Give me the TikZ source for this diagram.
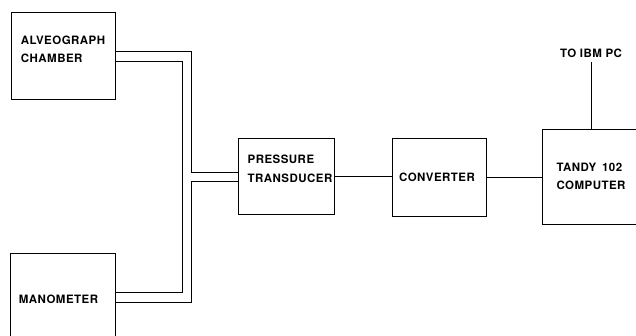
\documentclass[tikz,border=0pt]{standalone}
\usepackage{fontspec}
\newfontfamily\lblfont[LetterSpace=4]{TeX Gyre Heros}
\usepackage{tikz}
\usetikzlibrary{positioning}

\begin{document}
\begin{tikzpicture}[
  x=1pt, y=-1pt,
  blk/.style={rectangle, draw=black, line width=0.9pt, inner sep=0pt},
  txt/.style={font=\lblfont\bfseries\fontsize{11.5}{18.5}\selectfont, align=left, inner sep=0pt},
  pipe/.style={draw=black, line width=0.9pt}
]
\useasboundingbox (0,0) rectangle (636,336);
\clip (0,0) rectangle (636,336);

\node[blk, minimum width=104, minimum height=87,
      label={[txt, yshift=6pt]center:{ALVEOGRAPH\\CHAMBER}}] (alv) at (63,55.5) {};
\node[blk, minimum width=105, minimum height=92,
      label={[txt, xshift=-4pt]center:{MANOMETER}}] (man) at (62.5,299) {};
\node[blk, minimum width=96, minimum height=76,
      label={[txt, xshift=4pt, yshift=7pt]center:{PRESSURE\\TRANSDUCER}}] (trans) at (286,176) {};
\node[blk, minimum width=94, minimum height=78,
      label={[txt, xshift=-2pt]center:{CONVERTER}}] (conv) at (439,177) {};
\node[blk, minimum width=98, minimum height=95,
      label={[txt]center:{TANDY\enspace 102\\COMPUTER}}] (tandy) at (591,176.5) {};
\node[txt] (ibm) at (591,53) {TO IBM PC};

\coordinate (busa) at (182,0);
\coordinate (busb) at (191,0);

\draw[pipe] (alv.east |- 0,51) -| (busb |- 0,172) -- (trans.west |- 0,172);
\draw[pipe] (alv.east |- 0,61) -| (busa |- 0,292) -- (man.east |- 0,292);
\draw[pipe] (man.east |- 0,302) -| (busb |- 0,181) -- (trans.west |- 0,181);
\draw[pipe] (trans.east) -- (conv.west |- trans.east);
\draw[pipe] (conv.east) -- (tandy.west |- conv.east);
\draw[pipe] (tandy.north) -- ([yshift=-4pt]ibm.south);
\end{tikzpicture}
\end{document}
